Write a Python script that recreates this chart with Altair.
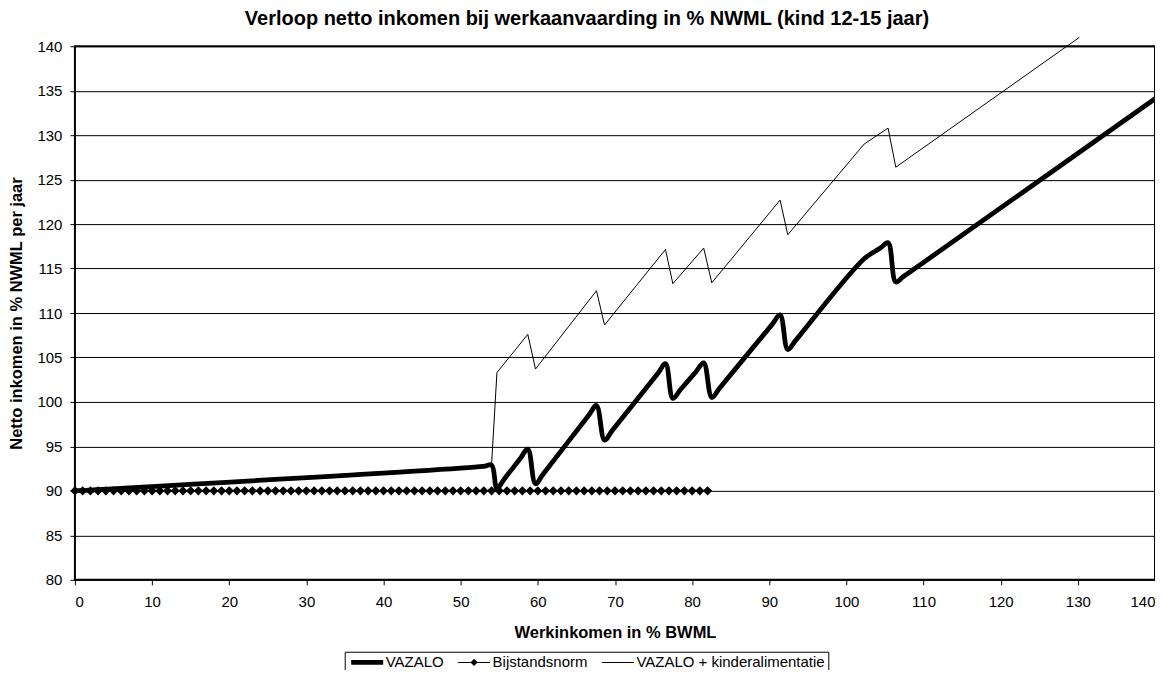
import altair as alt
import pandas as pd

title_text = "Verloop netto inkomen bij werkaanvaarding in % NWML (kind 12-15 jaar)"
x_title = "Werkinkomen in % BWML"
y_title = "Netto inkomen in % NWML per jaar"
series_names = ["VAZALO", "Bijstandsnorm", "VAZALO + kinderalimentatie"]

# VAZALO (thick, smoothed line)
vazalo_x = [0, 1, 52.9, 54.0, 54.7, 55.7, 57.7, 58.7, 59.7, 60.7, 66.6, 67.6, 68.65, 69.65,
            75.55, 76.55, 77.5, 78.5, 80.5, 81.5, 82.55, 83.55, 90.4, 91.4, 92.4, 93.4,
            102.3, 104.4, 105.4, 106.4, 107.4, 140]
vazalo_y = [90.0, 90.05, 92.75, 92.9, 90.3, 91.4, 93.6, 94.7, 90.8, 91.9, 98.5, 99.6, 95.7, 96.8,
            103.2, 104.3, 100.4, 101.4, 103.4, 104.4, 100.5, 101.55, 108.75, 109.8, 105.9, 106.9,
            116.1, 117.3, 117.9, 113.5, 114.1, 134.1]

# VAZALO + kinderalimentatie (thin line)
kinder_x = [0, 54.0, 54.7, 58.7, 59.7, 67.6, 68.65, 76.55, 77.5, 81.5, 82.55, 91.4, 92.4,
            102.3, 105.4, 106.4, 130.2]
kinder_y = [90.0, 92.9, 103.3, 107.6, 103.7, 112.5, 108.65, 117.15, 113.3, 117.3, 113.4, 122.7, 118.8,
            129.0, 130.8, 126.4, 141.0]

# Bijstandsnorm (line with diamonds)
bijstand_x = list(range(0, 83))
bijstand_y = [90.0] * len(bijstand_x)

x_ticks = list(range(0, 141, 10))
y_ticks = list(range(80, 141, 5))

df_vaz = pd.DataFrame({"x": vazalo_x, "y": vazalo_y, "series": series_names[0]})
df_bij = pd.DataFrame({"x": bijstand_x, "y": bijstand_y, "series": series_names[1]})
df_kin = pd.DataFrame({"x": kinder_x, "y": kinder_y, "series": series_names[2]})

FONT = "Liberation Sans"

xs = alt.Scale(domain=[0, 140], nice=False, zero=False)
ys = alt.Scale(domain=[80, 140], nice=False, zero=False)

x_enc = alt.X("x:Q", scale=xs, axis=alt.Axis(values=x_ticks, title=x_title, grid=False,
                                             labelPadding=10, titlePadding=15))
y_enc = alt.Y("y:Q", scale=ys, axis=alt.Axis(values=y_ticks, title=y_title, grid=True,
                                             labelPadding=8, titlePadding=12))

thick = alt.Chart(df_vaz).mark_line(color="black", strokeWidth=4.8, interpolate="catmull-rom",
                                    strokeJoin="round", strokeCap="round").encode(x=x_enc, y=y_enc)
bij_line = alt.Chart(df_bij).mark_line(color="black", strokeWidth=1).encode(x=x_enc, y=y_enc)
bij_pts = alt.Chart(df_bij).mark_point(shape="diamond", filled=True, size=85, color="black",
                                       opacity=1).encode(x=x_enc, y=y_enc)
thin = alt.Chart(df_kin).mark_line(color="black", strokeWidth=1).encode(x=x_enc, y=y_enc)

# legend symbols (custom paths, drawn at scale sqrt(size)/2 = 4 px per unit)
sym_paths = [
    "M-1,-0.6L7,-0.6L7,0.6L-1,0.6Z",
    "M-1,-0.13L7,-0.13L7,0.13L-1,0.13ZM3,-0.9L3.9,0L3,0.9L2.1,0Z",
    "M-1,-0.13L7,-0.13L7,0.13L-1,0.13Z",
]
legend_layer = alt.Chart(df_bij).mark_point(filled=True, opacity=0, size=64, color="black").encode(
    x=x_enc, y=y_enc,
    shape=alt.Shape("series:N", scale=alt.Scale(domain=series_names, range=sym_paths),
                    legend=alt.Legend(title=None, orient="none", legendX=270, legendY=606,
                                      direction="horizontal", strokeColor="black", fillColor="white",
                                      padding=3, labelFont=FONT, labelFontSize=15, labelColor="black",
                                      labelLimit=500, symbolOpacity=1, symbolFillColor="black",
                                      symbolStrokeWidth=0, symbolSize=64, labelOffset=23,
                                      columnPadding=10)),
)

chart = alt.layer(thick, bij_line, bij_pts, thin, legend_layer).properties(
    width=1081, height=534,
    padding={"left": 67, "top": 38, "right": 0, "bottom": 90},
    autosize=alt.AutoSizeParams(type="none"),
    title=alt.TitleParams(title_text, font=FONT, fontSize=20, fontWeight="bold", color="black",
                          anchor="middle", offset=6, dx=-28),
).configure_view(stroke="black", strokeWidth=2).configure_axis(
    domain=False, tickColor="black", tickSize=5, tickWidth=1, labelFont=FONT, labelFontSize=15,
    labelColor="black", titleFont=FONT, titleFontSize=16.5, titleFontWeight="bold", titleColor="black",
    gridColor="black", gridWidth=1, gridOpacity=1,
)

chart.save("out.html", embed_options={"renderer": "svg", "actions": False})
